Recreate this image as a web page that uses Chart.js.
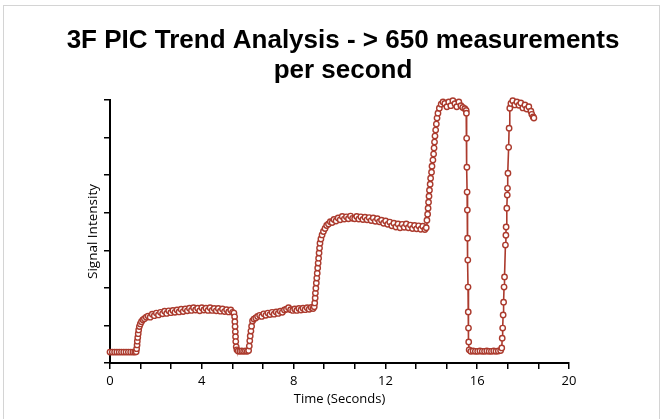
<!DOCTYPE html>
<html>
<head>
<meta charset="utf-8">
<script src="https://cdn.jsdelivr.net/npm/chart.js@4.4.1/dist/chart.umd.min.js"></script>
<style>
  html, body { margin: 0; padding: 0; background: #fff; }
  #wrap { position: relative; width: 663px; height: 419px; overflow: hidden; }
  #frame { position: absolute; left: 3px; top: 5px; width: 657px; height: 430px; border: 1px solid #d4d4d4; box-sizing: border-box; pointer-events: none; }
  canvas { position: absolute; left: 0; top: 0; }
</style>
</head>
<body>
<div id="wrap">
  <canvas id="c" width="663" height="419"></canvas>
  <div id="frame"></div>
</div>
<script>
// ---- Data ----
const titleLines = ['3F PIC Trend Analysis - > 650 measurements', 'per second'];
const xAxisTitle = 'Time (Seconds)';
const yAxisTitle = 'Signal Intensity';

const xTickValues = [0, 1.3333, 2.6667, 4, 5.3333, 6.6667, 8, 9.3333, 10.6667, 12, 13.3333, 14.6667, 16, 17.3333, 18.6667, 20];
const xTickLabels = [0, 4, 8, 12, 16, 20];
const yTickValues = [0, 1, 2, 3, 4, 5, 6, 7];

const timeSec = [
  0.00, 0.10, 0.20, 0.30, 0.40, 0.50, 0.60, 0.70, 0.80, 0.90, 1.00, 1.08, 1.14,
  1.16, 1.18, 1.19, 1.21, 1.23, 1.25, 1.28, 1.32, 1.37, 1.43, 1.50, 1.58, 1.66, 1.75, 1.84, 1.93,
  2.02, 2.11, 2.20, 2.29, 2.38, 2.47, 2.56, 2.65, 2.74, 2.83, 2.92, 3.01, 3.10, 3.19, 3.28, 3.37,
  3.46, 3.55, 3.64, 3.73, 3.82, 3.91, 4.00, 4.09, 4.18, 4.27, 4.36, 4.45, 4.54, 4.63, 4.72, 4.81,
  4.90, 4.99, 5.08, 5.17, 5.26, 5.34, 5.40,
  5.43, 5.44, 5.45, 5.46, 5.47, 5.48, 5.50, 5.53,
  5.58, 5.66, 5.74, 5.82, 5.90, 5.98, 6.04,
  6.07, 6.09, 6.11, 6.14, 6.17, 6.21, 6.27, 6.35, 6.43, 6.52, 6.61, 6.70, 6.79, 6.88, 6.97, 7.06,
  7.15, 7.24, 7.33, 7.42, 7.51, 7.60, 7.69, 7.78, 7.87, 7.96, 8.05, 8.14, 8.23, 8.32, 8.41, 8.50,
  8.59, 8.68, 8.77, 8.85, 8.90,
  8.92, 8.94, 8.95, 8.97, 8.99, 9.01, 9.03, 9.05, 9.07, 9.09, 9.11, 9.13, 9.15, 9.19, 9.24, 9.30,
  9.37, 9.44, 9.52, 9.60, 9.68, 9.76, 9.85, 9.94, 10.03, 10.12, 10.21, 10.30, 10.39, 10.48, 10.57,
  10.66, 10.75, 10.84, 10.93, 11.02, 11.11, 11.20, 11.29, 11.38, 11.47, 11.56, 11.65, 11.74, 11.83,
  11.92, 12.01, 12.10, 12.19, 12.28, 12.37, 12.46, 12.55, 12.64, 12.73, 12.82, 12.91, 13.00, 13.09,
  13.18, 13.27, 13.36, 13.45, 13.54, 13.63, 13.72, 13.78,
  13.81, 13.84, 13.86, 13.88, 13.90, 13.92, 13.95, 13.97, 14.01, 14.03, 14.07, 14.10, 14.12, 14.14,
  14.16, 14.19, 14.22, 14.25, 14.29, 14.35, 14.43, 14.51,
  14.59, 14.68, 14.76, 14.85, 14.94, 15.03, 15.11, 15.20, 15.29, 15.37, 15.46, 15.52,
  15.53, 15.54, 15.55, 15.56, 15.57, 15.58, 15.59, 15.60, 15.61, 15.62, 15.63, 15.65,
  15.72, 15.82, 15.92, 16.02, 16.12, 16.22, 16.32, 16.42, 16.52, 16.62, 16.72, 16.82, 16.92, 17.02,
  17.07, 17.09, 17.11, 17.13, 17.15, 17.17, 17.19, 17.23, 17.25, 17.26, 17.29, 17.31, 17.32, 17.34,
  17.37, 17.39, 17.42,
  17.47, 17.55, 17.64, 17.73, 17.82, 17.90, 17.99, 18.08, 18.16, 18.25, 18.34, 18.38, 18.44, 18.47
];

const intensity = [
  0.29, 0.29, 0.29, 0.29, 0.29, 0.29, 0.29, 0.29, 0.29, 0.29, 0.29, 0.29, 0.30,
  0.38, 0.48, 0.58, 0.68, 0.78, 0.88, 0.97, 1.04, 1.10, 1.15, 1.18, 1.22, 1.25, 1.22, 1.30, 1.26,
  1.33, 1.28, 1.35, 1.31, 1.38, 1.32, 1.39, 1.34, 1.40, 1.35, 1.41, 1.36, 1.43, 1.37, 1.44, 1.39,
  1.46, 1.40, 1.47, 1.41, 1.46, 1.39, 1.47, 1.41, 1.46, 1.40, 1.47, 1.40, 1.45, 1.39, 1.45, 1.38,
  1.44, 1.37, 1.42, 1.36, 1.41, 1.35, 1.33,
  1.23, 1.10, 0.97, 0.83, 0.70, 0.57, 0.43, 0.35,
  0.32, 0.31, 0.32, 0.31, 0.32, 0.31, 0.33,
  0.45, 0.59, 0.72, 0.85, 0.98, 1.12, 1.17, 1.20, 1.24, 1.27, 1.24, 1.31, 1.27, 1.33, 1.29, 1.35,
  1.30, 1.36, 1.32, 1.38, 1.35, 1.41, 1.43, 1.47, 1.42, 1.40, 1.44, 1.40, 1.45, 1.41, 1.46, 1.42,
  1.47, 1.43, 1.48, 1.45, 1.50,
  1.60, 1.73, 1.86, 1.99, 2.13, 2.26, 2.39, 2.53, 2.66, 2.79, 2.93, 3.06, 3.19, 3.30, 3.41, 3.50,
  3.58, 3.66, 3.70, 3.76, 3.74, 3.82, 3.78, 3.86, 3.81, 3.90, 3.83, 3.89, 3.84, 3.91, 3.85,
  3.84, 3.90, 3.83, 3.89, 3.82, 3.88, 3.81, 3.87, 3.79, 3.86, 3.77, 3.84, 3.76, 3.80,
  3.72, 3.78, 3.69, 3.75, 3.65, 3.72, 3.62, 3.70, 3.60, 3.69, 3.61, 3.70, 3.60, 3.67,
  3.58, 3.66, 3.57, 3.65, 3.56, 3.64, 3.55, 3.60,
  3.80, 3.96, 4.12, 4.28, 4.44, 4.60, 4.76, 4.92, 5.08, 5.24, 5.40, 5.56, 5.72, 5.88,
  6.04, 6.20, 6.36, 6.52, 6.65, 6.78, 6.89, 6.95,
  6.91, 6.82, 6.95, 6.85, 6.98, 6.90, 6.82, 6.95, 6.85, 6.80, 6.77, 6.72,
  6.65, 5.98, 5.21, 4.55, 4.07, 3.32, 2.74, 2.02, 1.36, 0.93, 0.56, 0.35,
  0.31, 0.32, 0.31, 0.31, 0.32, 0.31, 0.31, 0.32, 0.31, 0.31, 0.32, 0.31, 0.32, 0.33,
  0.40, 0.66, 0.93, 1.28, 1.62, 2.02, 2.29, 3.14, 3.40, 3.62, 4.12, 4.47, 4.65, 5.05,
  5.74, 6.25, 6.78,
  6.91, 6.98, 6.87, 6.95, 6.86, 6.92, 6.79, 6.87, 6.76, 6.82, 6.70, 6.62, 6.55, 6.52
];

// ---- Chart ----
const seriesColor = '#ab3a2d';
const points = timeSec.map((t, i) => ({ x: t, y: intensity[i] }));

Chart.defaults.font.family = "'Open Sans', 'DejaVu Sans', sans-serif";
Chart.defaults.color = '#000';

new Chart(document.getElementById('c'), {
  type: 'line',
  data: {
    datasets: [{
      data: points,
      borderColor: seriesColor,
      borderWidth: 1.6,
      pointRadius: 2.7,
      pointBorderWidth: 1.4,
      pointBorderColor: seriesColor,
      pointBackgroundColor: '#ffffff',
      tension: 0,
      clip: false,
      yAxisID: 'y'
    }]
  },
  options: {
    responsive: false,
    animation: false,
    events: [],
    layout: { padding: { left: 23, right: 0, top: 0, bottom: 0 } },
    plugins: {
      legend: { display: false },
      tooltip: { enabled: false },
      title: {
        display: true,
        text: titleLines,
        color: '#000',
        font: { family: "'Liberation Sans', Arial, sans-serif", size: 26, weight: 'bold', lineHeight: 30 / 26 },
        padding: { top: 26, bottom: 14 }
      }
    },
    scales: {
      x: {
        type: 'linear',
        min: 0,
        max: 20,
        afterBuildTicks: (s) => { s.ticks = xTickValues.map(v => ({ value: v })); },
        afterFit: (s) => { s.height = 56; },
        ticks: {
          autoSkip: false,
          maxRotation: 0,
          padding: 4,
          font: { size: 13 },
          color: '#000',
          callback: (v) => {
            const m = xTickLabels.find(l => Math.abs(l - v) < 0.01);
            return m === undefined ? '' : String(m);
          }
        },
        grid: { drawOnChartArea: false, drawTicks: true, tickLength: 6, color: '#000', lineWidth: 1.5 },
        border: { display: true, color: '#000', width: 2 },
        title: { display: true, text: xAxisTitle, color: '#000', font: { size: 13 }, padding: { top: 0, bottom: 12 } }
      },
      y: {
        type: 'linear',
        position: 'left',
        min: 0,
        max: 7,
        afterBuildTicks: (s) => { s.ticks = yTickValues.map(v => ({ value: v })); },
        afterFit: (s) => { s.width = 87; },
        ticks: { display: false },
        grid: { drawOnChartArea: false, drawTicks: true, tickLength: 6, color: '#000', lineWidth: 1.5 },
        border: { display: true, color: '#000', width: 2 },
        title: { display: true, text: yAxisTitle, color: '#000', font: { size: 13.5 }, padding: { top: 62, bottom: 0 } }
      },
      yRight: {
        type: 'linear',
        position: 'right',
        display: true,
        afterFit: (s) => { s.width = 94; },
        ticks: { display: false },
        grid: { display: false, drawTicks: false },
        border: { display: false }
      }
    }
  }
});
</script>
</body>
</html>
